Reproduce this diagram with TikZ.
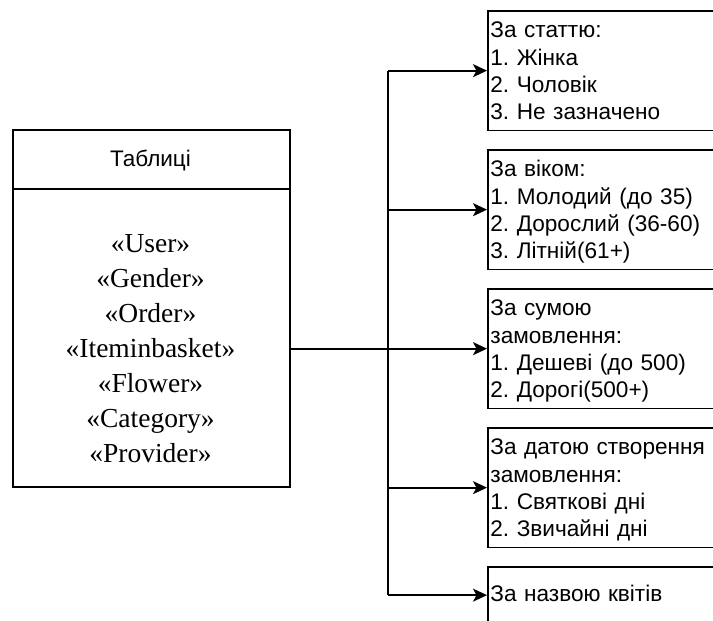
\documentclass[tikz,border=0pt]{standalone}
\usepackage{fontspec}
\setmainfont{Liberation Serif}
\newfontfamily\sansf{Liberation Sans}
\usetikzlibrary{arrows.meta}
\frenchspacing
\begin{document}
\begin{tikzpicture}[x=1pt,y=-1pt,
  frame/.style={draw=black, line width=1.8pt},
  catbox/.style={frame, anchor=north west, inner xsep=2.5pt, inner ysep=0pt,
    text width=300pt, align=left,
    font=\sansf\fontsize{22.6}{27.2}\selectfont,
    text height=27pt, text depth=92.5pt},
  link/.style={line width=1.8pt, -{Stealth[length=14pt,width=13pt,inset=3.5pt]}},
  trunkline/.style={line width=1.8pt},
]
\fill[white] (0,0) rectangle (713,621);
\useasboundingbox (0,0) rectangle (713,621);
\clip (0,0) rectangle (713,621);

% table box with its header
\node[frame, anchor=north west, minimum width=277pt, minimum height=357pt, inner sep=0pt] (tables) at (12,129) {};
\draw[frame] ([yshift=-60pt]tables.north west) -- ([yshift=-60pt]tables.north east);
\node[font=\sansf\fontsize{22.5}{26}\selectfont, anchor=base] (title) at (150.5,166) {Таблиці};
\node[anchor=base, text width=270pt, align=center, inner sep=0pt,
      font=\fontsize{27.5}{35}\selectfont] (items) at (150.5,252)
  {«User»\\«Gender»\\«Order»\\«Iteminbasket»\\«Flower»\\«Category»\\«Provider»};

% grouping boxes
\node[catbox] (c1) at (487,10)  {За статтю:\\1. Жінка\\2. Чоловік\\3. Не зазначено};
\node[catbox] (c2) at (487,149) {За віком:\\1. Молодий (до 35)\\2. Дорослий (36-60)\\3. Літній(61+)};
\node[catbox] (c3) at (487,288) {За сумою\\замовлення:\\1. Дешеві (до 500)\\2. Дорогі(500+)};
\node[catbox] (c4) at (487,427) {За датою створення\\замовлення:\\1. Святкові дні\\2. Звичайні дні};
\node[catbox, text height=35pt, text depth=21.5pt] (c5) at (487,566) {За назвою квітів};

% connectors
\coordinate (trunk) at (388,0);
\draw[link] (tables.east |- c3.west) -- (c3.west);
\draw[trunkline] (trunk |- c1.west) -- (trunk |- c5.west);
\foreach \b in {c1,c2,c4,c5}
  \draw[link] (trunk |- \b.west) -- (\b.west);
\end{tikzpicture}
\end{document}
